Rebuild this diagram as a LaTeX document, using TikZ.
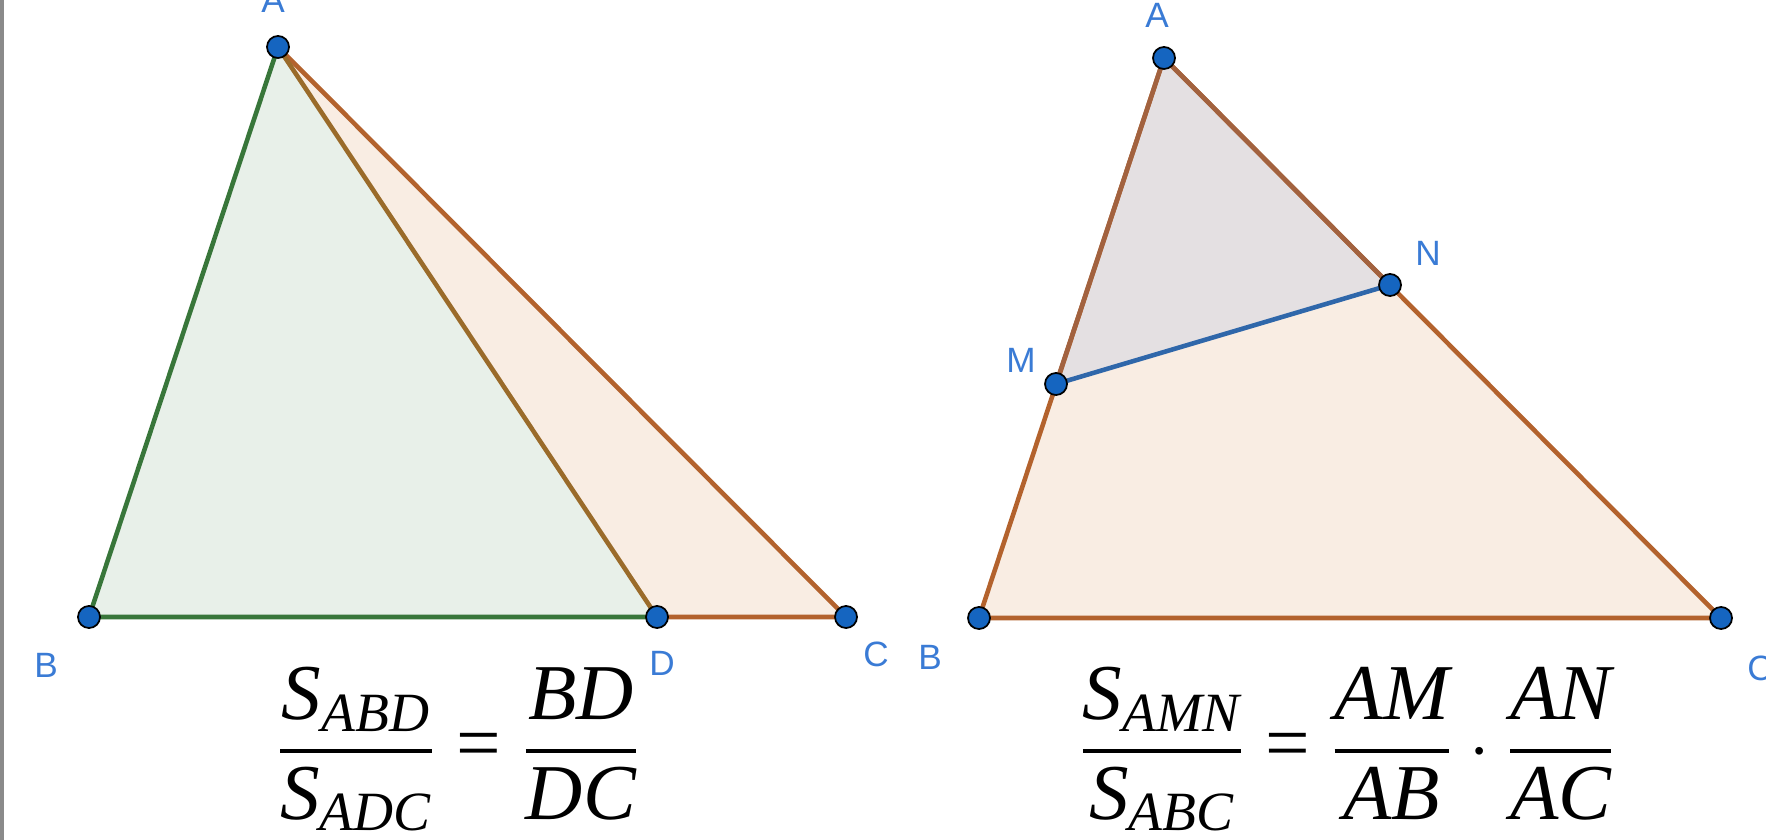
\documentclass[tikz,border=0pt]{standalone}
\usepackage{amsmath}
\usepackage{fontspec}
\newfontfamily\lblfont{Liberation Sans}
\newfontfamily\eqfont{Liberation Serif}
\newcommand{\tv}[1]{\text{#1}}
\newcommand{\eqsign}{\mathrel{\text{\upshape=}}}
\definecolor{PtBlue}{HTML}{1565C0}
\definecolor{LblBlue}{HTML}{3A7BD5}
\definecolor{GreenEdge}{HTML}{38763A}
\definecolor{GreenFill}{HTML}{E8F0E9}
\definecolor{BrownEdge}{HTML}{B3622D}
\definecolor{MixEdge}{HTML}{9A6B2A}
\definecolor{DarkBrown}{HTML}{A2623F}
\definecolor{OrangeFill}{HTML}{F9EDE3}
\definecolor{GreyFill}{HTML}{E4E0E2}
\definecolor{SegBlue}{HTML}{2F67AA}
\definecolor{Frame}{HTML}{8A8A8A}

\begin{document}
\begin{tikzpicture}[x=0.01cm,y=-0.01cm,
    pt/.style={circle,draw=black,line width=0.5pt,fill=PtBlue,inner sep=0pt,minimum size=0.22cm},
    lbl/.style={text=LblBlue,font=\lblfont\fontsize{10}{12}\selectfont,inner sep=0pt},
    eq/.style={font=\eqfont\itshape\fontsize{22.5}{27}\selectfont,inner sep=0pt,anchor=base}]
  \useasboundingbox (0,0) rectangle (1766,840);
  \draw[Frame,line width=1.5pt] (1,0) -- (1,840);
  % left: triangle with cevian AD
  \coordinate (A1) at (278,47);
  \coordinate (B1) at (89,617);
  \coordinate (D1) at (657,617);
  \coordinate (C1) at (846,617);
  \fill[OrangeFill] (A1) -- (D1) -- (C1) -- cycle;
  \fill[GreenFill] (A1) -- (B1) -- (D1) -- cycle;
  \draw[BrownEdge,line width=1.3pt,line join=round] (A1) -- (C1) -- (D1);
  \draw[GreenEdge,line width=1.3pt,line join=round] (D1) -- (B1) -- (A1);
  \draw[MixEdge,line width=1.3pt] (A1) -- (D1);
  \node[pt] (a1) at (A1) {};
  \node[pt] (b1) at (B1) {};
  \node[pt] (d1) at (D1) {};
  \node[pt] (c1) at (C1) {};
  \node[lbl] (la1) at (273,0) {A};
  \node[lbl] (lb1) at (46,665) {B};
  \node[lbl] (ld1) at (662,663) {D};
  \node[lbl] (lc1) at (876,654) {C};
  \node[eq] (eq1) at (458,769) {$\genfrac{}{}{1.2pt}{0}{\tv{S}_{\tv{ABD}}}{\tv{S}_{\tv{ADC}}}\eqsign\genfrac{}{}{1.2pt}{0}{\tv{BD}}{\tv{DC}}$};
  % right: triangle with M on AB, N on AC
  \coordinate (A2) at (1164,58);
  \coordinate (B2) at (979,618);
  \coordinate (C2) at (1721,618);
  \coordinate (M2) at (1056,384);
  \coordinate (N2) at (1390,285);
  \fill[OrangeFill] (A2) -- (B2) -- (C2) -- cycle;
  \fill[GreyFill] (A2) -- (M2) -- (N2) -- cycle;
  \draw[BrownEdge,line width=1.3pt,line join=round] (A2) -- (B2) -- (C2) -- cycle;
  \draw[DarkBrown,line width=1.3pt,line join=round] (M2) -- (A2) -- (N2);
  \draw[SegBlue,line width=1.3pt] (M2) -- (N2);
  \node[pt] (a2) at (A2) {};
  \node[pt] (b2) at (B2) {};
  \node[pt] (c2) at (C2) {};
  \node[pt] (m2) at (M2) {};
  \node[pt] (n2) at (N2) {};
  \node[lbl] (la2) at (1157,15) {A};
  \node[lbl] (lb2) at (930,657) {B};
  \node[lbl] (lc2) at (1760,668) {C};
  \node[lbl] (lm2) at (1021,360) {M};
  \node[lbl] (ln2) at (1428,253) {N};
  \node[eq] (eq2) at (1347,769) {$\genfrac{}{}{1.2pt}{0}{\tv{S}_{\tv{AMN}}}{\tv{S}_{\tv{ABC}}}\eqsign\genfrac{}{}{1.2pt}{0}{\tv{AM}}{\tv{AB}}\cdot\genfrac{}{}{1.2pt}{0}{\tv{AN}}{\tv{AC}}$};
\end{tikzpicture}
\end{document}
